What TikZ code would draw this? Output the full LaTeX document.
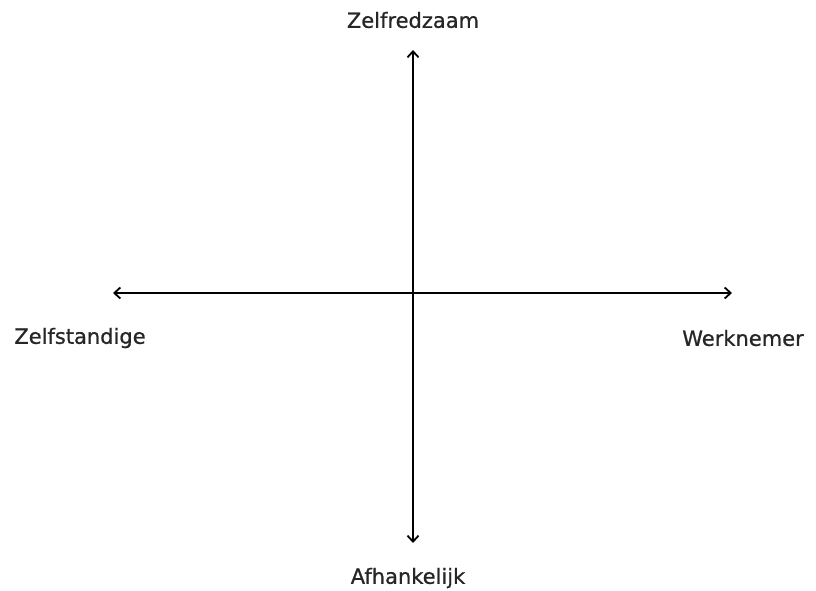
\documentclass[tikz,border=0pt]{standalone}
\usepackage{fontspec}
\setmainfont{DejaVu Sans}[FakeBold=0.8]
\usetikzlibrary{arrows.meta}
\begin{document}
\begin{tikzpicture}[x=1pt,y=-1pt,
  axis/.style={line width=2pt,{Straight Barb[length=6pt,width=11pt,line width=1.8pt]}-{Straight Barb[length=6pt,width=11pt,line width=1.8pt]}},
  lab/.style={font=\fontsize{21}{25}\selectfont, text=black!85, inner sep=0pt}]
\useasboundingbox (0,0) rectangle (816,591);
\coordinate (top) at (413,50);
\coordinate (bot) at (413,543);
\coordinate (left) at (113,293);
\coordinate (right) at (732,293);
\draw[axis] (bot) -- (top);
\draw[axis] (left) -- (right);
\node[lab] (n) at (413,20) {Zelfredzaam};
\node[lab] (w) at (80,338) {Zelfstandige};
\node[lab] (e) at (743,338) {Werknemer};
\node[lab] (s) at (408,578) {Afhankelijk};
\end{tikzpicture}
\end{document}
